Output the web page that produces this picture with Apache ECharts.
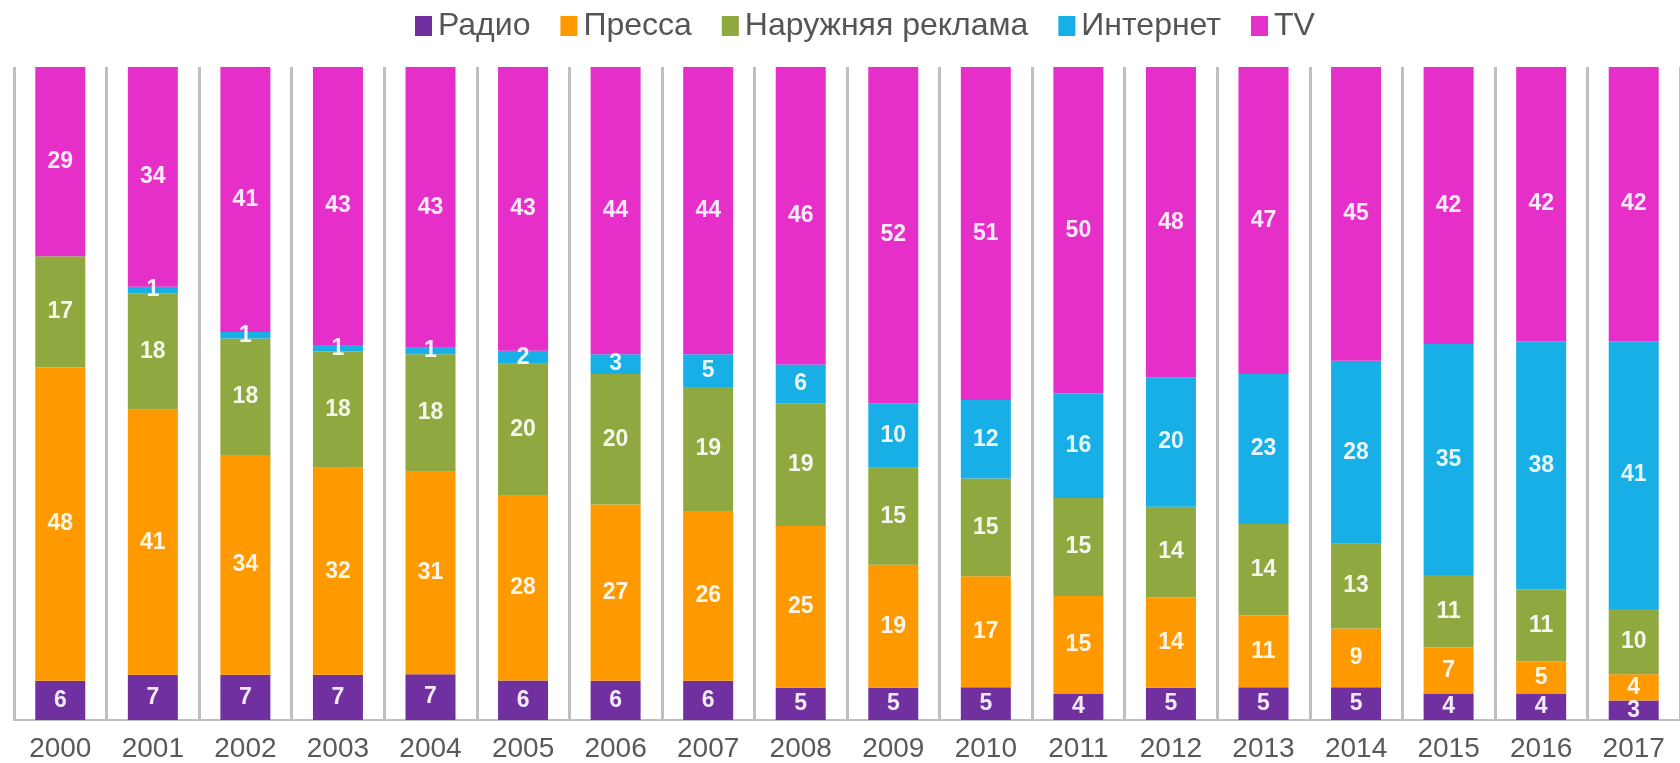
<!DOCTYPE html>
<html>
<head>
<meta charset="utf-8">
<script src="https://cdn.jsdelivr.net/npm/echarts@6/dist/echarts.min.js"></script>
<style>
  html, body { margin: 0; padding: 0; background: #fff; }
  #chart { width: 1680px; height: 763px; }
</style>
</head>
<body>
<div id="chart"></div>
<script>
var years = ["2000", "2001", "2002", "2003", "2004", "2005", "2006", "2007", "2008",
  "2009", "2010", "2011", "2012", "2013", "2014", "2015", "2016", "2017"];
var radio = [6, 7, 7, 7, 7, 6, 6, 6, 5, 5, 5, 4, 5, 5, 5, 4, 4, 3];
var press = [48, 41, 34, 32, 31, 28, 27, 26, 25, 19, 17, 15, 14, 11, 9, 7, 5, 4];
var outdoor = [17, 18, 18, 18, 18, 20, 20, 19, 19, 15, 15, 15, 14, 14, 13, 11, 11, 10];
var internet = [0, 1, 1, 1, 1, 2, 3, 5, 6, 10, 12, 16, 20, 23, 28, 35, 38, 41];
var tv = [29, 34, 41, 43, 43, 43, 44, 44, 46, 52, 51, 50, 48, 47, 45, 42, 42, 42];

var names = ["Радио", "Пресса", "Наружняя реклама", "Интернет", "TV"];
var colors = ["#7030A0", "#FF9900", "#8FA83F", "#17AFE6", "#E62FC9"];
var raw = [radio, press, outdoor, internet, tv];

// каждый столбец = 100%
var totals = years.map(function (y, i) {
  return raw.reduce(function (s, arr) { return s + arr[i]; }, 0);
});

var myChart = echarts.init(document.getElementById("chart"));
myChart.setOption({
  animation: false,
  color: colors,
  legend: {
    top: 5,
    left: 410,
    icon: "rect",
    itemWidth: 17,
    itemHeight: 20,
    itemGap: 30,
    data: names,
    textStyle: {
      color: "#555555",
      fontSize: 32,
      fontFamily: "Liberation Sans",
      padding: [0, 0, 0, 1],
    },
  },
  grid: {
    left: 14,
    width: 1680,
    top: 67,
    bottom: 42,
  },
  xAxis: {
    type: "category",
    data: years,
    axisTick: { show: false },
    axisLine: {
      lineStyle: { color: "#BFBFBF", width: 2 },
    },
    splitLine: {
      show: true,
      interval: 0,
      lineStyle: { color: "#BFBFBF", width: 3 },
    },
    axisLabel: {
      interval: 0,
      margin: 15,
      color: "#595959",
      fontSize: 28,
      fontFamily: "Liberation Sans",
    },
  },
  yAxis: {
    type: "value",
    min: 0,
    max: 100,
    show: false,
  },
  series: raw.map(function (arr, k) {
    return {
      name: names[k],
      type: "bar",
      stack: "total",
      barWidth: 50,
      data: arr.map(function (v, i) { return (v / totals[i]) * 100; }),
      label: {
        show: true,
        position: "inside",
        color: "rgba(255,255,255,0.9)",
        fontSize: 23,
        fontWeight: "bold",
        fontFamily: "Liberation Sans",
        formatter: function (p) {
          var v = arr[p.dataIndex];
          return v ? String(v) : "";
        },
      },
    };
  }),
});
</script>
</body>
</html>
